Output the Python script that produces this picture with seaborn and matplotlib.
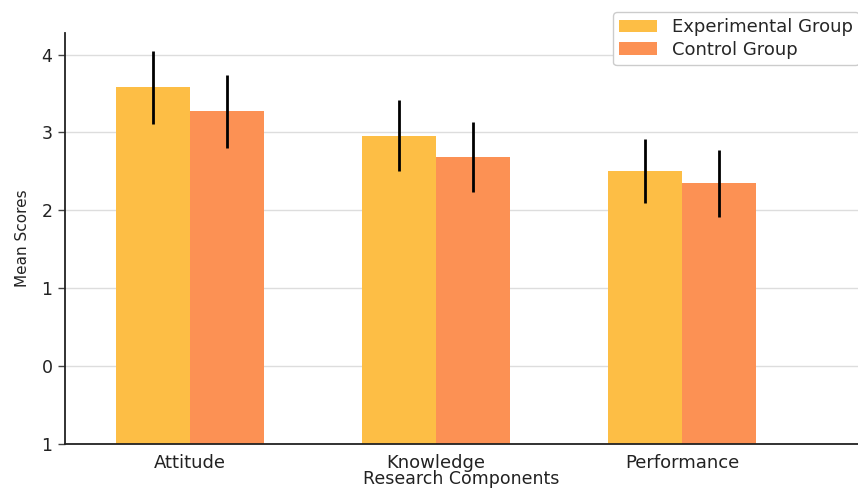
import matplotlib
matplotlib.use("Agg")
import matplotlib.pyplot as plt
import seaborn as sns
import pandas as pd

# Mean scores and spread per research component
components = ["Attitude", "Knowledge", "Performance"]
groups = ["Experimental Group", "Control Group"]
experimental_means = [3.58, 2.96, 2.51]
control_means = [3.27, 2.68, 2.35]
experimental_err = [0.47, 0.46, 0.41]
control_err = [0.47, 0.45, 0.43]
y_ticks = [-1, 0, 1, 2, 3, 4]
y_floor = -1

palette = {"Experimental Group": "#FDBE45", "Control Group": "#FC9154"}

df = pd.DataFrame({
    "Research Components": components * 2,
    "Group": [groups[0]] * 3 + [groups[1]] * 3,
    "Mean Scores": experimental_means + control_means,
    "err": experimental_err + control_err,
})

sns.set_theme(style="whitegrid")
plt.rcParams["font.family"] = ["DejaVu Sans"]

fig = plt.figure(figsize=(8.58, 4.90), dpi=100)
ax = fig.add_axes([0.0758, 0.094, 0.9242, 0.839])

sns.barplot(data=df, x="Research Components", y="Mean Scores", hue="Group",
            order=components, hue_order=groups, palette=palette,
            errorbar=None, width=0.6, saturation=1.0, linewidth=0,
            ax=ax, zorder=2)

# bars rise from the bottom of the value axis; error bars at each bar centre
for container, grp in zip(ax.containers, groups):
    sub = df[df["Group"] == grp].set_index("Research Components").loc[components]
    for patch, val in zip(container.patches, sub["Mean Scores"]):
        patch.set_y(y_floor)
        patch.set_height(val - y_floor)
    xs = [p.get_x() + p.get_width() / 2 for p in container.patches]
    ax.errorbar(xs, sub["Mean Scores"], yerr=sub["err"], fmt="none",
                ecolor="black", elinewidth=2, capsize=0, zorder=3)

ax.set_xlim(-0.508, 2.715)
ax.set_ylim(y_floor, 4.28)
ax.set_yticks(y_ticks)
ax.set_yticklabels([str(abs(t)) for t in y_ticks])

ax.grid(axis="y", color="#DDDDDD", linewidth=1)
ax.grid(axis="x", visible=False)
ax.set_axisbelow(True)

for side in ["top", "right"]:
    ax.spines[side].set_visible(False)
for side in ["left", "bottom"]:
    ax.spines[side].set_visible(True)
    ax.spines[side].set_color("#222222")
    ax.spines[side].set_linewidth(1.3)

ax.tick_params(axis="y", left=True, length=5, width=1, color="#444444",
               labelsize=12.5, labelcolor="#222222", pad=4)
ax.tick_params(axis="x", bottom=False, labelsize=13, labelcolor="#222222", pad=1)

ax.set_xlabel("Research Components", fontsize=12.5, color="#222222", labelpad=-1)
ax.set_ylabel("Mean Scores", fontsize=11, color="#222222", labelpad=8)

handles, labels = ax.get_legend_handles_labels()
ax.legend(handles, labels, loc="upper left", bbox_to_anchor=(613 / 858, 1 - 12 / 490),
          bbox_transform=fig.transFigure, borderaxespad=0, fontsize=13, frameon=True,
          edgecolor="#CCCCCC", facecolor="white", framealpha=1,
          handlelength=2.1, handleheight=0.7, borderpad=0.35, labelspacing=0.25)

fig.savefig("out.png", dpi=100)
